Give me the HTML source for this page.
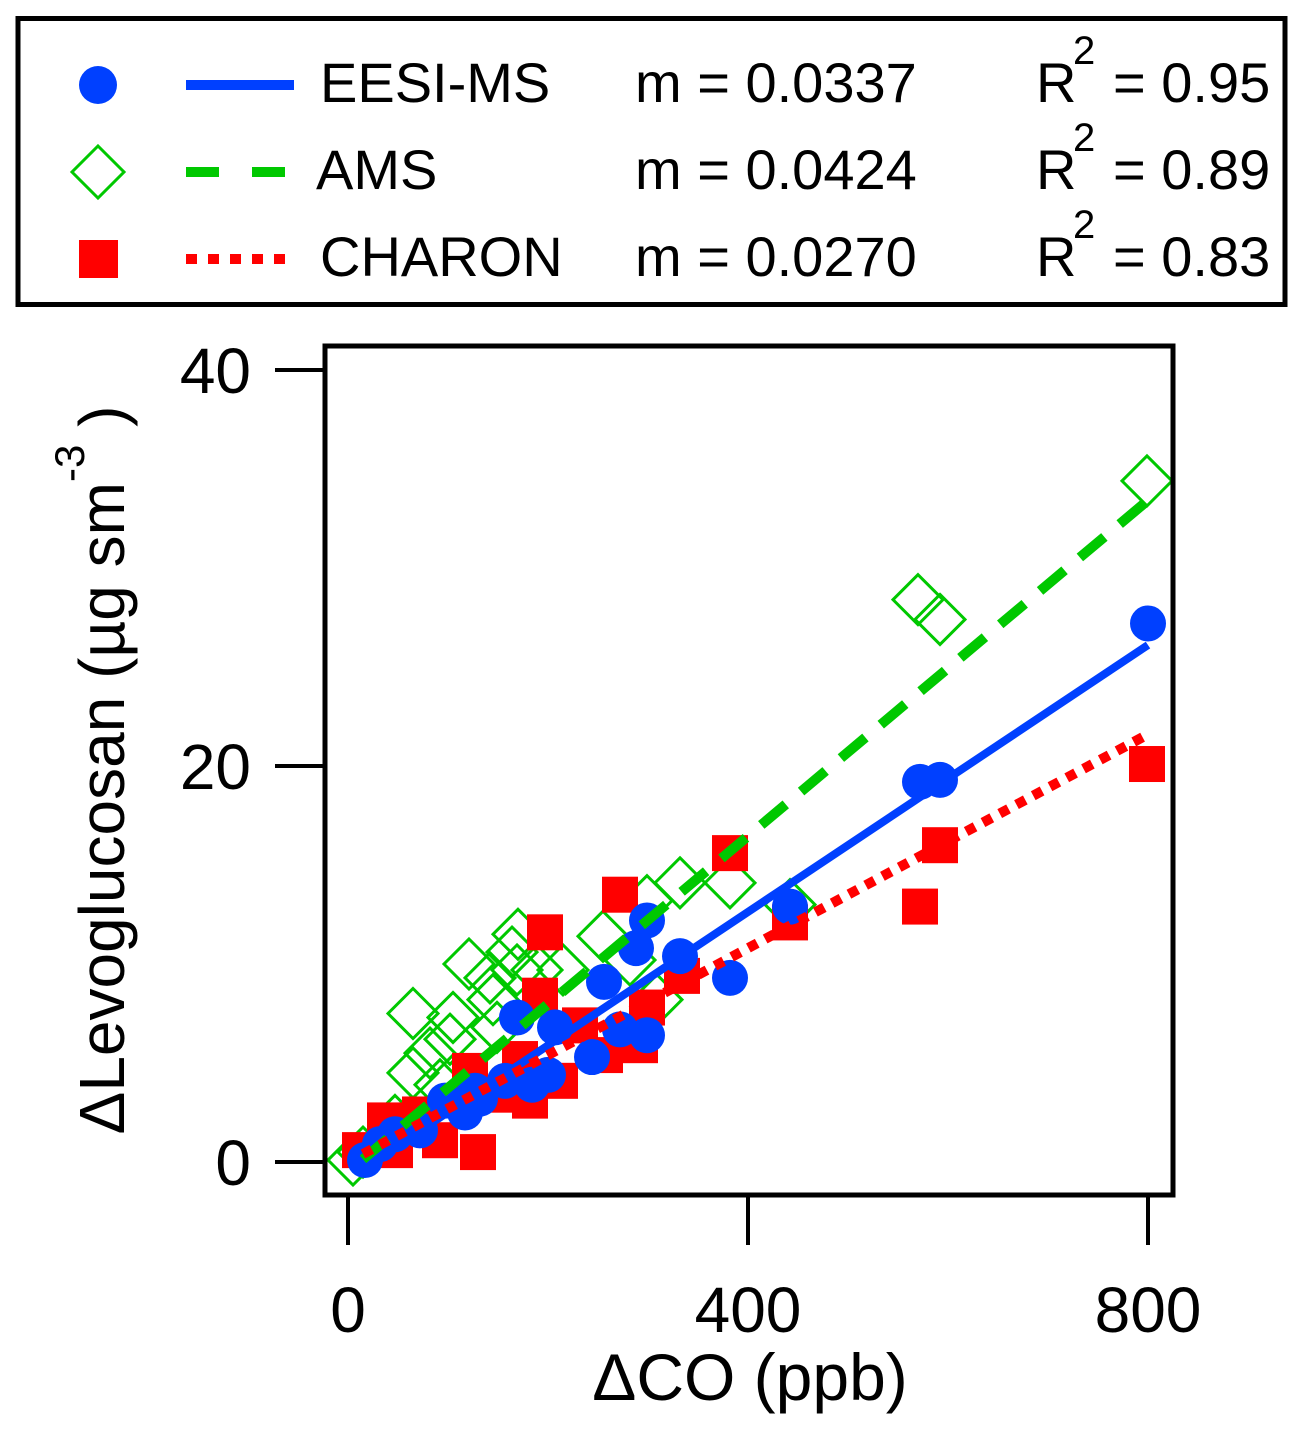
<!DOCTYPE html>
<html><head><meta charset="utf-8"><style>
html,body{margin:0;padding:0;background:#fff;}
svg{display:block;font-family:"Liberation Sans",Arial,sans-serif;}
</style></head><body>
<svg id="chart" width="1307" height="1429" viewBox="0 0 1307 1429">
<g>
<rect x="18" y="18.5" width="1267" height="286" fill="#fff" stroke="#000" stroke-width="5"/>
<g>
<circle cx="98" cy="85" r="19" fill="#0040ff"/>
<line x1="186" y1="85" x2="294" y2="85" stroke="#0040ff" stroke-width="10"/>
<text x="320" y="102" font-size="56">EESI-MS</text>
<text x="635" y="102" font-size="56">m = 0.0337</text>
<text x="1036" y="102" font-size="56">R</text><text x="1073" y="64" font-size="40">2</text>
<text x="1113" y="102" font-size="56">= 0.95</text>
</g>
<g>
<polygon points="98,146 124,172 98,198 72,172" fill="none" stroke="#00c800" stroke-width="3"/>
<line x1="186" y1="172" x2="294" y2="172" stroke="#00c800" stroke-width="10" stroke-dasharray="33 33"/>
<text x="316" y="189" font-size="56">AMS</text>
<text x="635" y="189" font-size="56">m = 0.0424</text>
<text x="1036" y="189" font-size="56">R</text><text x="1073" y="151" font-size="40">2</text>
<text x="1113" y="189" font-size="56">= 0.89</text>
</g>
<g>
<rect x="79" y="240" width="39" height="38" fill="#ff0000"/>
<line x1="186" y1="259" x2="294" y2="259" stroke="#ff0000" stroke-width="10" stroke-dasharray="11 11"/>
<text x="320" y="276" font-size="56">CHARON</text>
<text x="635" y="276" font-size="56">m = 0.0270</text>
<text x="1036" y="276" font-size="56">R</text><text x="1073" y="238" font-size="40">2</text>
<text x="1113" y="276" font-size="56">= 0.83</text>
</g>
</g>
<g id="axes"></g>
<g id="marks"></g>
<rect x="325" y="346" width="848" height="849" fill="none" stroke="#000" stroke-width="5"/>
<text x="750" y="1400" font-size="66" text-anchor="middle">ΔCO (ppb)</text>
<text transform="translate(124,770) rotate(-90)" font-size="64" text-anchor="middle">ΔLevoglucosan (µg sm<tspan font-size="42" dy="-40">-3</tspan><tspan dy="40"> )</tspan></text>
</svg>
<script>
const xTicks=[0,400,800];
const yTicks=[0,20,40];
const eesiX=[800,592,572,442,382,332,299,288,256,299,272,244,207,200,169,184,157,132,127,97,117,72,47,32,17];
const eesiY=[27.2,19.3,19.2,12.9,9.3,10.4,12.2,10.8,9.1,6.4,6.7,5.3,6.8,4.4,7.3,3.9,4.1,3.2,3.6,3.1,2.5,1.6,1.4,0.9,0.1];
const amsX=[799,570,592,442,382,332,299,282,255,309,215,189,169,164,170,145,142,149,121,105,102,82,65,65,92,47,15,5];
const amsY=[34.4,28.4,27.4,13,14.1,14.1,13.2,10.2,11.4,8.2,9.7,9.7,9.7,10.6,11.5,8.2,9.3,6.8,10.0,7.3,6.2,5.5,7.5,4.5,3.9,2.1,0.5,0.1];
const charonX=[799,592,572,442,382,334,272,197,192,299,292,257,232,212,182,152,130,92,72,37,47,12,122,172];
const charonY=[20.1,16,12.9,12.1,15.6,9.4,13.5,11.6,8.4,7.8,5.9,5.4,6.9,4.1,3.1,3.4,0.5,1.1,2.4,2.1,0.6,0.6,4.6,5.2];
const slopes=[0.0337,0.0424,0.0270];
const intercepts=[-0.85,-0.5,0];
const fitRange=[15,800];
const X=v=>348+v*1.0;
const Y=v=>1162-v*19.8;
const NS='http://www.w3.org/2000/svg';
function mk(t,a,p){const e=document.createElementNS(NS,t);for(const k in a)e.setAttribute(k,a[k]);p.appendChild(e);return e;}
const axes=document.getElementById('axes'),marks=document.getElementById('marks');
xTicks.forEach(t=>{
 const l=mk('line',{x1:X(t),x2:X(t),y1:1195,y2:1245,stroke:'#000','stroke-width':4},axes);
 
 
 const s=mk('text',{x:X(t),y:1332,'font-size':64,'text-anchor':'middle'},axes);s.textContent=t;
 
 
});
yTicks.forEach(t=>{
 const l=mk('line',{x1:275,x2:325,y1:Y(t),y2:Y(t),stroke:'#000','stroke-width':4},axes);
 
 
 const s=mk('text',{x:251,y:Y(t)+23,'font-size':64,'text-anchor':'end'},axes);s.textContent=t;
 
 
});
amsX.forEach((x,i)=>{const cx=X(x),cy=Y(amsY[i]);
 const p=mk('polygon',{points:`${cx},${cy-25} ${cx+25},${cy} ${cx},${cy+25} ${cx-25},${cy}`,fill:'none',stroke:'#00c800','stroke-width':3},marks);
 
 
});
charonX.forEach((x,i)=>{
 const r=mk('rect',{x:X(x)-18,y:Y(charonY[i])-18,width:36,height:36,fill:'#ff0000'},marks);
 
 
});
eesiX.forEach((x,i)=>{
 const c=mk('circle',{cx:X(x),cy:Y(eesiY[i]),r:18,fill:'#0040ff'},marks);
 
 
});
const styles=[{stroke:'#0040ff',w:8,d:''},{stroke:'#00c800',w:10,d:'32 20'},{stroke:'#ff0000',w:10,d:'10 9'}];
const names=['eesi-fit-line','ams-fit-line','charon-fit-line'];
slopes.forEach((m,i)=>{
 const a={x1:X(fitRange[0]),y1:Y(m*fitRange[0]+intercepts[i]),x2:X(fitRange[1]),y2:Y(m*fitRange[1]+intercepts[i]),stroke:styles[i].stroke,'stroke-width':styles[i].w};
 if(styles[i].d)a['stroke-dasharray']=styles[i].d;
 const l=mk('line',a,marks);
 
 
});
</script>
</body></html>
